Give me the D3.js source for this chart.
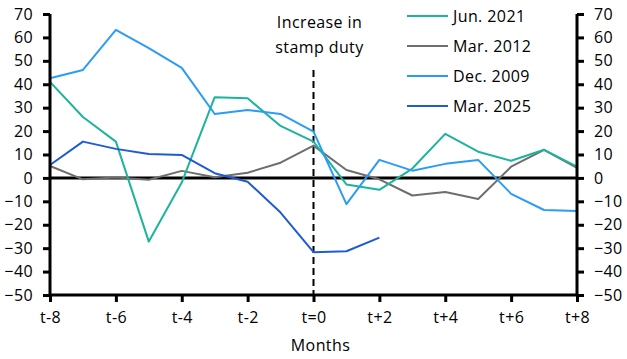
<!DOCTYPE html>
<html><head><meta charset="utf-8">
<script src="https://cdn.jsdelivr.net/npm/d3@7"></script>
<style>body{margin:0;background:#fff}svg{display:block}text{font-family:"Open Sans",sans-serif;fill:#000;letter-spacing:0.4px}</style>
</head><body><svg id="c" width="627" height="359"></svg>
<script>
const months = d3.range(-8, 9);
const tickMonths = [-8,-6,-4,-2,0,2,4,6,8];
const tickLabels = ["t-8","t-6","t-4","t-2","t=0","t+2","t+4","t+6","t+8"];
const yTicks = [70,60,50,40,30,20,10,0,-10,-20,-30,-40,-50];
const seriesNames = ["Jun. 2021","Mar. 2012","Dec. 2009","Mar. 2025"];
const jun2021 = [41,26,15.5,-27.2,-2,34.5,34,22.2,15.5,-2.8,-5.1,4,18.8,11.2,7.3,12,4.8];
const mar2012 = [5.1,-0.6,0.2,-0.8,3,0.3,2.2,6.5,13.8,3.4,-0.6,-7.5,-6,-9,4.8,12,4.3];
const dec2009 = [42.6,46.1,63.2,55.4,47,27.3,29,27.3,19.8,-11.2,7.7,3.1,6,7.7,-6.8,-13.7,-14.1];
const mar2025 = [5.5,15.5,12.4,10.2,9.8,2,-1.6,-14.8,-31.7,-31.3,-25.5];
const colors = ["#1cb49c","#6e6e6e","#2b9cf5","#1f5cd1"];
const annotation = ["Increase in","stamp duty"];
const xTitle = "Months";

const svg = d3.select("#c");
const L=50, R=577, T=14, B=295;
const x = d3.scaleLinear().domain([-8,8]).range([L,R]);
const y = d3.scaleLinear().domain([-50,70]).range([B,T]);

const line = d3.line().x((d,i)=>x(months[i])).y(d=>y(d));
const allSeries = [jun2021, mar2012, dec2009, mar2025];

svg.append("line").attr("x1",L).attr("x2",R).attr("y1",y(0)).attr("y2",y(0)).attr("stroke","#000").attr("stroke-width",3);

svg.append("line").attr("x1",x(0)).attr("x2",x(0)).attr("y1",70).attr("y2",B)
  .attr("stroke","#000").attr("stroke-width",2).attr("stroke-dasharray","7,4");

[1,0,2,3].forEach(k=>{
  svg.append("path").datum(allSeries[k]).attr("d",line).attr("fill","none")
    .attr("stroke",colors[k]).attr("stroke-width",2).attr("stroke-linejoin","round");
});

const fs = "16px";
const yl = svg.append("g").attr("transform",`translate(${L},0)`)
  .call(d3.axisLeft(y).tickValues(yTicks).tickSize(7).tickPadding(10).tickFormat(d3.format("d")));
const yr = svg.append("g").attr("transform",`translate(${R},0)`)
  .call(d3.axisRight(y).tickValues(yTicks).tickSize(7).tickPadding(10).tickFormat(d3.format("d")));
const xa = svg.append("g").attr("transform",`translate(0,${B})`)
  .call(d3.axisBottom(x).tickValues(tickMonths).tickSize(7).tickPadding(10).tickFormat((d,i)=>tickLabels[i]));
[yl,yr,xa].forEach(g=>{
  g.select(".domain").attr("stroke","#000").attr("stroke-width",3);
  g.selectAll(".tick line").attr("stroke","#000").attr("stroke-width",3);
  g.selectAll(".tick text").style("font-size",fs).attr("fill","#000").style("font-family","'Open Sans',sans-serif");
});
yl.select(".domain").attr("d",`M0,${T}V${B}`);
yr.select(".domain").attr("d",`M0,${T}V${B}`);
xa.select(".domain").attr("d",`M${L},0H${R}`);

svg.append("text").attr("x",x(0)+7).attr("y",351).attr("text-anchor","middle").style("font-size",fs).text(xTitle);

annotation.forEach((t,i)=>{
  svg.append("text").attr("x",x(0)+6).attr("y",28+i*25).attr("text-anchor","middle").style("font-size",fs).text(t);
});

seriesNames.forEach((n,i)=>{
  const yy = 16 + i*30;
  svg.append("line").attr("x1",407).attr("x2",448).attr("y1",yy).attr("y2",yy).attr("stroke",colors[i]).attr("stroke-width",2);
  svg.append("text").attr("x",453).attr("y",yy+6).style("font-size",fs).text(n);
});
</script></body></html>
